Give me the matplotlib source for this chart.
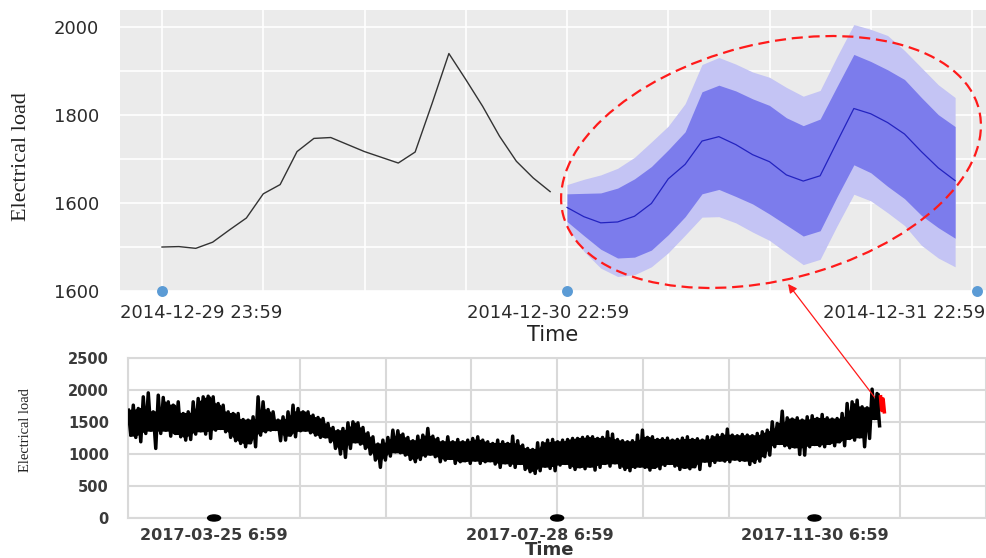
import numpy as np
import matplotlib
matplotlib.use("Agg")
import matplotlib.pyplot as plt
from matplotlib.patches import Ellipse, ConnectionPatch

W, H = 986, 558

# ---------------- upper panel: three days around the forecast ----------------
# hourly steps: 0..23 observed, 24..47 forecast
hist_load = [1499, 1500, 1496, 1510, 1538, 1565, 1620, 1641, 1716, 1746, 1748, 1732,
             1716, 1703, 1690, 1715, 1825, 1939, 1880, 1819, 1751, 1694, 1656, 1625]
fc_median = [1589, 1568, 1554, 1556, 1569, 1598, 1654, 1687, 1740, 1750, 1732, 1709,
             1693, 1663, 1649, 1661, 1738, 1814, 1802, 1782, 1756, 1716, 1679, 1650]
fc_inner_hi = [1620, 1621, 1622, 1633, 1654, 1682, 1720, 1761, 1852, 1867, 1854, 1836,
               1821, 1793, 1775, 1790, 1864, 1937, 1921, 1902, 1880, 1839, 1800, 1773]
fc_inner_lo = [1557, 1525, 1494, 1474, 1476, 1492, 1527, 1568, 1620, 1630, 1614, 1597,
               1574, 1549, 1524, 1536, 1613, 1686, 1668, 1637, 1609, 1571, 1543, 1519]
fc_outer_hi = [1641, 1653, 1663, 1678, 1703, 1738, 1774, 1825, 1914, 1930, 1915, 1897,
               1885, 1862, 1842, 1855, 1932, 2005, 1994, 1980, 1946, 1907, 1868, 1839]
fc_outer_lo = [1546, 1489, 1451, 1432, 1436, 1454, 1486, 1526, 1567, 1568, 1554, 1533,
               1514, 1486, 1459, 1471, 1547, 1619, 1604, 1577, 1548, 1503, 1474, 1454]

top_ytick_vals = [1400, 1600, 1800, 2000]
top_ytick_text = ["1600", "1600", "1800", "2000"]
top_xlabel_pos = [2.3, 22.9, 44.0]
top_xlabel_text = ["2014-12-29 23:59", "2014-12-30 22:59", "2014-12-31 22:59"]
top_marker_pos = [0, 24, 48.3]

# ---------------- lower panel: full year, per-interval high / low ----------------
load_high = [1685, 1763, 1711, 1893, 1955, 1659, 1919, 1883, 1815, 1763, 1815, 1633, 1659,
             1815, 1867, 1893, 1903, 1893, 1789, 1763, 1659, 1633, 1633, 1539, 1529, 1581,
             1893, 1815, 1695, 1659, 1529, 1581, 1659, 1763, 1711, 1659, 1659, 1607, 1571,
             1555, 1477, 1415, 1363, 1399, 1487, 1503, 1487, 1415, 1331, 1269, 1155, 1217,
             1259, 1373, 1363, 1311, 1259, 1207, 1279, 1295, 1399, 1279, 1243, 1191, 1269,
             1191, 1227, 1191, 1217, 1243, 1269, 1217, 1191, 1165, 1217, 1191, 1165,
             1279, 1207, 1139, 1087, 1071, 1175, 1175, 1217, 1227, 1191, 1217, 1227, 1243,
             1243, 1259, 1269, 1269, 1243, 1259, 1347, 1311, 1227, 1207, 1191, 1207, 1295,
             1373, 1259, 1269, 1227, 1238, 1248, 1217, 1227, 1248, 1269, 1227, 1238,
             1217, 1269, 1269, 1295, 1305, 1389, 1295, 1285, 1305, 1295, 1285, 1321, 1347,
             1373, 1503, 1477, 1669, 1565, 1545, 1565, 1529, 1581, 1597, 1555, 1617, 1565,
             1545, 1555, 1633, 1789, 1815, 1841, 1737, 1721, 2013, 1945]
load_low = [1295, 1259, 1191, 1321, 1373, 1087, 1321, 1373, 1279, 1321, 1269, 1217, 1227,
            1311, 1363, 1311, 1243, 1373, 1399, 1347, 1259, 1207, 1165, 1113, 1175, 1113,
            1295, 1347, 1373, 1383, 1207, 1217, 1295, 1269, 1363, 1373, 1331, 1295, 1259,
            1269, 1191, 1087, 999, 947, 1087, 1191, 1155, 1087, 999, 905, 791, 905,
            967, 1035, 1019, 983, 915, 879, 915, 967, 999, 957, 879, 905, 931,
            853, 879, 895, 853, 905, 853, 879, 895, 843, 791, 863, 822,
            791, 853, 759, 723, 697, 739, 811, 775, 739, 827, 853, 791, 759,
            801, 770, 811, 749, 791, 853, 811, 863, 791, 759, 739, 791, 811,
            791, 749, 791, 770, 822, 853, 811, 759, 791, 770, 801, 759,
            889, 817, 869, 905, 889, 879, 921, 900, 905, 837, 869, 889, 957,
            983, 1113, 1165, 1129, 1097, 1113, 993, 983, 1113, 1149, 1129, 1113, 1165,
            1129, 1191, 1129, 1243, 1217, 1269, 1113, 1243, 1555, 1441]
# last day (the forecast target), highlighted
last_day_high = [1893, 1860]
last_day_low = [1680, 1660]

bottom_yticks = [0, 500, 1000, 1500, 2000, 2500]
bottom_xlabel_pos = [1.0, 4.8, 8.0]
bottom_xlabel_text = ["2017-03-25 6:59", "2017-07-28 6:59", "2017-11-30 6:59"]
bottom_marker_pos = [1, 5, 8]
sample_step = 0.0582


def px_rect(left, top, right, bottom):
    return [left / W, 1 - bottom / H, (right - left) / W, (bottom - top) / H]


fig = plt.figure(figsize=(W / 100, H / 100), dpi=100)
fig.patch.set_facecolor("white")

# ======================= upper panel =======================
ax = fig.add_axes(px_rect(120, 10, 986, 291))
ax.set_facecolor("#EBEBEB")
for s in ax.spines.values():
    s.set_visible(False)

steps_hist = np.arange(len(hist_load))
steps_fc = np.arange(len(hist_load), len(hist_load) + len(fc_median))

ax.fill_between(steps_fc, fc_outer_lo, fc_outer_hi, color="#C4C4F4", lw=0, zorder=2)
ax.fill_between(steps_fc, fc_inner_lo, fc_inner_hi, color="#7C7CEC", lw=0, zorder=3)
ax.plot(steps_fc, fc_median, color="#2323C0", lw=0.9, zorder=4)
ax.plot(steps_hist, hist_load, color="#333333", lw=1.0, zorder=4)

ax.set_xlim(-2.49, 48.83)
ax.set_ylim(1399, 2038)
ax.set_yticks(top_ytick_vals, top_ytick_text)
ax.set_yticks([1500, 1700, 1900], minor=True)
ax.set_xticks(top_xlabel_pos, top_xlabel_text)
ax.set_xticks(np.arange(0, 49, 6), minor=True)
ax.tick_params(which="both", length=0)
ax.tick_params(axis="y", pad=15, labelsize=13, labelcolor="#2b2b2b")
ax.tick_params(axis="x", pad=9, labelsize=13, labelcolor="#2b2b2b")
ax.grid(False)
ax.yaxis.grid(True, which="both", color="white", lw=1.2)
ax.xaxis.grid(True, which="minor", color="white", lw=1.2)
ax.set_axisbelow(True)
ax.scatter(top_marker_pos, [1400] * len(top_marker_pos), s=62, color="#5B9BD5",
           clip_on=False, zorder=6, linewidths=0)

fig.text(553 / W, 1 - 335 / H, "Time", ha="center", va="center", fontsize=15,
         color="#222222")
fig.text(22 / W, 1 - 157 / H, "Electrical load", rotation=90, ha="center",
         va="center", fontsize=16, family="Liberation Serif", color="#222222")

# ======================= lower panel =======================
bx = fig.add_axes(px_rect(128.3, 358, 986, 518))
bx.set_facecolor("white")
hi = np.asarray(load_high, dtype=float)
lo = np.asarray(load_low, dtype=float)
n = len(hi)
idx = np.arange(n)
xs = np.empty(2 * n)
ys = np.empty(2 * n)
xs[0::2] = idx * sample_step
xs[1::2] = (idx + 0.5) * sample_step
ys[0::2] = hi
ys[1::2] = lo
bx.plot(xs, ys, color="black", lw=2.5, zorder=3)

# solid body of the trace: range shared by neighbouring intervals
core_hi = np.minimum.reduce([hi, np.r_[hi[1:], hi[-1]], np.r_[hi[0], hi[:-1]]])
core_lo = np.maximum.reduce([lo, np.r_[lo[1:], lo[-1]], np.r_[lo[0], lo[:-1]]])
core_hi = np.maximum(core_hi, core_lo)
bx.fill_between((idx + 0.25) * sample_step, core_lo, core_hi, color="black", lw=1.5,
                edgecolor="black", zorder=3)

m = len(last_day_high)
rx = np.empty(2 * m)
ry = np.empty(2 * m)
rx[0::2] = (n - 0.3 + np.arange(m) * 0.5) * sample_step
rx[1::2] = (n - 0.05 + np.arange(m) * 0.5) * sample_step
ry[0::2] = last_day_high
ry[1::2] = last_day_low
bx.plot(rx, ry, color="red", lw=2.6, zorder=4)

bx.set_xlim(0, 9.985)
bx.set_ylim(0, 2500)
bx.set_yticks(bottom_yticks)
bx.set_xticks(bottom_xlabel_pos, bottom_xlabel_text)
bx.set_xticks(np.arange(0, 11, 1), minor=True)
bx.tick_params(which="both", length=0)
bx.tick_params(axis="y", pad=14, labelsize=10.5, labelcolor="#3a3a3a")
bx.tick_params(axis="x", pad=7, labelsize=11.5, labelcolor="#3a3a3a")
for lab in bx.get_xticklabels() + bx.get_yticklabels():
    lab.set_fontweight("bold")
bx.grid(False)
bx.yaxis.grid(True, which="major", color="#D9D9D9", lw=1.5)
bx.xaxis.grid(True, which="minor", color="#D9D9D9", lw=1.5)
bx.set_axisbelow(True)
bx.spines["right"].set_visible(False)
for side in ("left", "bottom", "top"):
    bx.spines[side].set_color("#D9D9D9")
    bx.spines[side].set_linewidth(1.5)

for xm in bottom_marker_pos:
    bx.add_patch(Ellipse((xm, 0), 0.151, 95, color="black", clip_on=False, zorder=6))

fig.text(550 / W, 1 - 550 / H, "Time", ha="center", va="center", fontsize=13,
         fontweight="bold", color="#333333")
fig.text(26 / W, 1 - 430 / H, "Electrical load", rotation=90, ha="center",
         va="center", fontsize=10.5, family="Liberation Serif", color="#222222")

# ======================= highlight and link =======================
ov = fig.add_axes([0, 0, 1, 1], zorder=10)
ov.set_xlim(0, W)
ov.set_ylim(H, 0)
ov.axis("off")
ov.patch.set_alpha(0)
ov.add_patch(Ellipse((771, 162), 429, 236, angle=-14.25, fill=False, ec="#FF1A1A",
                     lw=1.6, ls=(0, (5, 2.6))))

link = ConnectionPatch(xyA=(8.70, 1888), coordsA=bx.transData,
                       xyB=(37.1, 1415), coordsB=ax.transData,
                       arrowstyle="-|>", mutation_scale=13, color="#FF1A1A", lw=0.9,
                       zorder=11)
fig.add_artist(link)

fig.savefig("out.png", dpi=100, facecolor="white")
